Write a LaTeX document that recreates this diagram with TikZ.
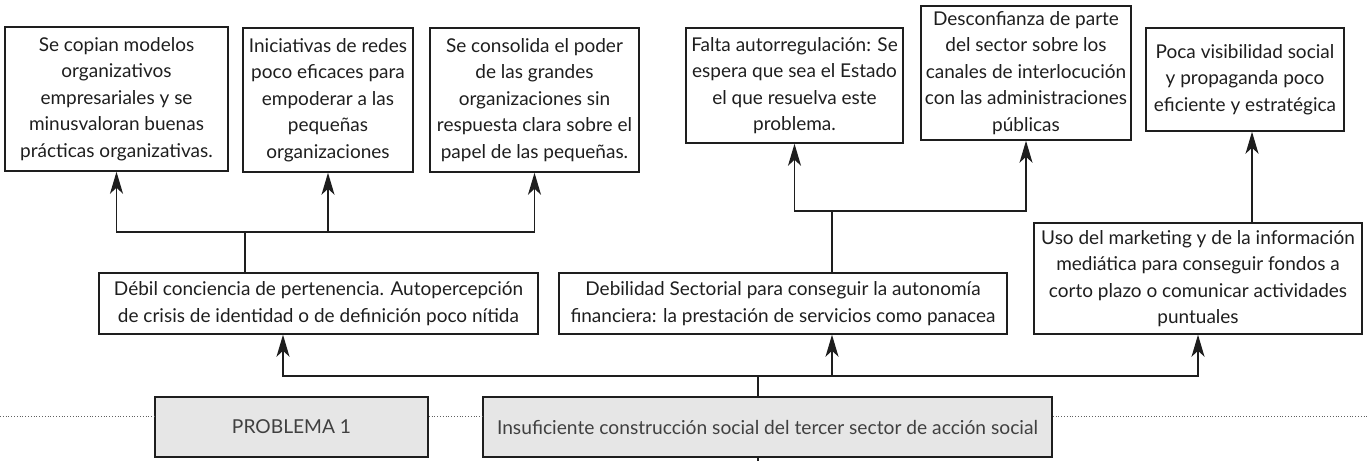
\documentclass[tikz,border=0pt]{standalone}
\usepackage{fontspec}
\setmainfont{Lato}
\usetikzlibrary{arrows.meta}
\definecolor{boxgray}{HTML}{E6E6E6}
\definecolor{ink}{HTML}{1E1E1E}
\tikzset{
  box/.style={draw=ink, line width=1.5pt, rectangle, align=center, inner sep=2pt,
    font=\fontsize{19}{26.5}\selectfont, text=ink},
  pbox/.style={box, fill=boxgray, text=ink!85, font=\fontsize{19.2}{25}\selectfont},
  link/.style={draw=ink, line width=1.5pt},
  arr/.style={link, -{Stealth[length=22pt,width=13pt,inset=6pt]}},
  dotline/.style={draw=ink!70, line width=0.8pt, dotted}
}
\begin{document}
\begin{tikzpicture}[x=1pt,y=-1pt]
\useasboundingbox (0,0) rectangle (1367,461);
% top row
\node[box, minimum width=223pt, minimum height=144pt] (b1) at (116.5,99) {Se copian modelos\\organizativos\\empresariales y se\\minusvaloran buenas\\prácticas organizativas.};
\node[box, minimum width=170pt, minimum height=144pt] (b2) at (328,100) {Iniciativas de redes\\poco eficaces para\\empoderar a las\\pequeñas\\organizaciones};
\node[box, minimum width=209pt, minimum height=144pt] (b3) at (534.5,100) {Se consolida el poder\\de las grandes\\organizaciones sin\\respuesta clara sobre el\\papel de las pequeñas.};
\node[box, minimum width=217pt, minimum height=115pt] (b4) at (794.5,85.5) {Falta autorregulación: Se\\espera que sea el Estado\\el que resuelva este\\problema.};
\node[box, minimum width=210pt, minimum height=134pt] (b5) at (1026,73) {Desconfianza de parte\\del sector sobre los\\canales de interlocución\\con las administraciones\\públicas};
\node[box, minimum width=198pt, minimum height=103pt] (b6) at (1245,79.5) {Poca visibilidad social\\y propaganda poco\\eficiente y estratégica};
% middle row
\node[box, minimum width=439pt, minimum height=61pt] (m1) at (318.5,303.5) {Débil conciencia de pertenencia. Autopercepción\\de crisis de identidad o de definición poco nítida};
\node[box, minimum width=448pt, minimum height=61pt] (m2) at (783,303.5) {Debilidad Sectorial para conseguir la autonomía\\financiera: la prestación de servicios como panacea};
\node[box, minimum width=328pt, minimum height=111pt] (m3) at (1198,278.5) {Uso del marketing y de la información\\mediática para conseguir fondos a\\corto plazo o comunicar actividades\\puntuales};
% bottom row
\node[pbox, minimum width=273pt, minimum height=60pt] (p1) at (291.5,427) {PROBLEMA 1};
\node[pbox, minimum width=569pt, minimum height=60pt] (p2) at (767.5,427) {Insuficiente construcción social del tercer sector de acción social};
% junctions
\coordinate (j1) at (245,232);
\coordinate (j2) at (832,211);
\coordinate (j3) at (758,376);
\coordinate (j4) at (1252,0);
\coordinate (d0) at (0,416);
\coordinate (d1) at (1367,416);
% left group
\draw[link] (j1 |- m1.north) -- (j1);
\draw[arr] (j1) -| (b1.south);
\draw[arr] (j1) -| (b3.south);
\draw[arr] (j1 -| b2.south) -- (b2.south);
% middle group
\draw[link] (j2 |- m2.north) -- (j2);
\draw[arr] (j2) -| (b4.south);
\draw[arr] (j2) -| (b5.south);
% right group
\draw[arr] (j4 |- m3.north) -- (j4 |- b6.south);
% bottom group
\draw[link] (j3 |- p2.north) -- (j3);
\draw[arr] (j3) -| ([xshift=-35.5pt]m1.south);
\draw[arr] (j3 -| j2) -- (j2 |- m2.south);
\draw[arr] (j3) -| (m3.south);
\draw[link] (j3 |- p2.south) -- (j3 |- 0,461);
% dotted line
\draw[dotline] (d0) -- (d0 -| p1.west);
\draw[dotline] (d0 -| p1.east) -- (d0 -| p2.west);
\draw[dotline] (d0 -| p2.east) -- (d1);
\end{tikzpicture}
\end{document}
